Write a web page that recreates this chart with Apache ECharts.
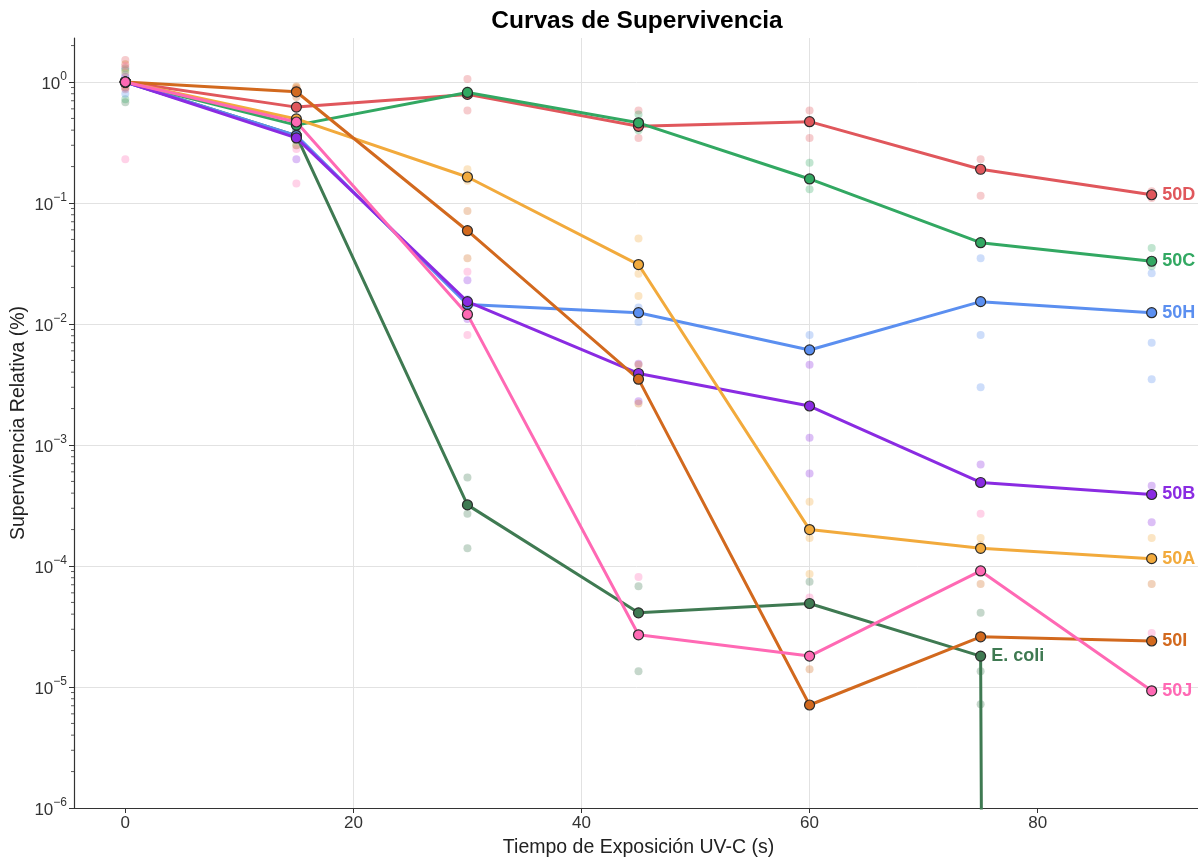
<!DOCTYPE html>
<html><head><meta charset="utf-8">
<script src="https://cdn.jsdelivr.net/npm/echarts@6/dist/echarts.min.js"></script>
<style>html,body{margin:0;padding:0;background:#fff}#c{width:1198px;height:858px}</style>
</head><body><div id="c"></div>
<script>
// ---- data ----
const times = [0, 15, 30, 45, 60, 75, 90];
const xTickLabels = [0, 20, 40, 60, 80];
const yTickExponents = [-6, -5, -4, -3, -2, -1, 0];

const mean_Ecoli = [1, 0.36, 3.2e-4, 4.1e-5, 4.9e-5, 1.8e-5, 0];
const mean_50D = [1, 0.62, 0.79, 0.43, 0.47, 0.19, 0.117];
const mean_50C = [1, 0.44, 0.82, 0.46, 0.158, 0.047, 0.033];
const mean_50H = [1, 0.36, 0.0145, 0.0124, 0.0061, 0.0153, 0.0124];
const mean_50B = [1, 0.345, 0.0153, 0.0039, 0.0021, 4.9e-4, 3.9e-4];
const mean_50A = [1, 0.495, 0.164, 0.031, 2.0e-4, 1.4e-4, 1.15e-4];
const mean_50I = [1, 0.83, 0.059, 0.0035, 7.1e-6, 2.6e-5, 2.4e-5];
const mean_50J = [1, 0.467, 0.012, 2.7e-5, 1.8e-5, 9.1e-5, 9.3e-6];

const repl_Ecoli = [[0,0.68],[0,1.3],[15,0.3],[15,0.4],[30,5.4e-4],[30,2.7e-4],[30,1.4e-4],[45,6.8e-5],[45,1.35e-5],[60,7.4e-5],[75,4.1e-5],[75,1.35e-5],[75,7.2e-6]];
const repl_50D = [[0,1.52],[0,0.87],[15,0.88],[15,0.42],[30,1.06],[30,0.58],[45,0.58],[45,0.345],[60,0.58],[60,0.345],[75,0.23],[75,0.115],[90,0.125],[90,0.11]];
const repl_50C = [[0,0.72],[0,1.25],[15,0.4],[15,0.48],[30,0.85],[30,0.78],[45,0.54],[45,0.40],[60,0.215],[60,0.13],[75,0.048],[75,0.046],[90,0.0425],[90,0.03]];
const repl_50H = [[0,0.8],[0,1.15],[15,0.4],[15,0.33],[30,0.016],[30,0.013],[45,0.0137],[45,0.0104],[60,0.0081],[75,0.035],[75,0.0081],[75,0.003],[90,0.0263],[90,0.007],[90,0.0035]];
const repl_50B = [[0,1.1],[0,0.9],[15,0.23],[15,0.45],[30,0.023],[30,0.011],[45,0.0047],[45,0.0023],[60,0.0046],[60,0.00115],[60,5.8e-4],[75,6.9e-4],[90,4.6e-4],[90,2.3e-4]];
const repl_50A = [[0,1.2],[0,0.9],[15,0.9],[15,0.3],[30,0.19],[30,0.153],[45,0.051],[45,0.026],[45,0.017],[60,3.4e-4],[60,1.7e-4],[60,8.6e-5],[75,1.7e-4],[75,1.5e-4],[90,1.7e-4]];
const repl_50I = [[0,1.4],[0,0.95],[15,0.92],[15,0.75],[30,0.086],[30,0.035],[45,0.0022],[45,0.0046],[60,1.4e-5],[75,7.1e-5],[90,7.1e-5]];
const repl_50J = [[0,0.23],[0,1.35],[15,0.28],[15,0.145],[30,0.027],[30,0.0081],[45,8.1e-5],[60,5.5e-5],[75,2.7e-4],[90,2.8e-5]];

// ---- styling ----
const FONT = '"Liberation Sans", Arial, sans-serif';
const groups = [
  {name: 'E. coli', mean: mean_Ecoli, repl: repl_Ecoli, color: '#3f7a52', labelAt: 5},
  {name: '50D', mean: mean_50D, repl: repl_50D, color: '#e0575c', labelAt: 6},
  {name: '50C', mean: mean_50C, repl: repl_50C, color: '#32a862', labelAt: 6},
  {name: '50H', mean: mean_50H, repl: repl_50H, color: '#5b8ff0', labelAt: 6},
  {name: '50B', mean: mean_50B, repl: repl_50B, color: '#8a2be2', labelAt: 6},
  {name: '50A', mean: mean_50A, repl: repl_50A, color: '#f2aa3c', labelAt: 6},
  {name: '50I', mean: mean_50I, repl: repl_50I, color: '#d2691e', labelAt: 6},
  {name: '50J', mean: mean_50J, repl: repl_50J, color: '#ff69b4', labelAt: 6}
];
const X_MIN = -4.5, X_MAX = 94.5, Y_MIN = 1e-6, Y_MAX = 2.31;
// zero survival is drawn like matplotlib's log clipping: far below the axis
const ZERO_AS = 1e-300;

const series = [];
groups.forEach(g => {
  series.push({
    type: 'scatter', name: g.name + ' rep', z: 1, silent: true,
    symbolSize: 8,
    itemStyle: {color: g.color, opacity: 0.3},
    data: g.repl
  });
});
groups.forEach(g => {
  series.push({
    type: 'line', name: g.name, z: 3, silent: true,
    clip: true,
    symbol: 'circle', symbolSize: 10, showSymbol: true,
    lineStyle: {color: g.color, width: 3},
    itemStyle: {color: g.color, borderColor: '#2a2a2a', borderWidth: 1.2},
    data: times.map((t, i) => {
      const v = g.mean[i] > 0 ? g.mean[i] : ZERO_AS;
      const item = {value: [t, v]};
      if (i === g.labelAt) {
        item.label = {show: true, position: 'right', distance: 5, formatter: g.name,
          color: g.color, fontWeight: 'bold', fontSize: 18, fontFamily: FONT};
      }
      return item;
    })
  });
});

// minor log ticks on the y axis (axis decoration)
const minorTickValues = [];
yTickExponents.forEach(n => { for (let k = 2; k <= 9; k++) { const v = k * Math.pow(10, n); if (v < Y_MAX) minorTickValues.push([X_MIN, v]); } });
series.push({
  type: 'custom', silent: true, z: 5, clip: false,
  data: minorTickValues,
  renderItem: (params, api) => {
    const p = api.coord([api.value(0), api.value(1)]);
    return {type: 'line', shape: {x1: p[0] - 3, y1: p[1], x2: p[0], y2: p[1]}, style: {stroke: '#333', lineWidth: 0.8}};
  }
});

const chart = echarts.init(document.getElementById('c'), null, {renderer: 'canvas'});
chart.setOption({
  animation: false,
  backgroundColor: '#fff',
  grid: {left: 74, right: -5, top: 38, bottom: 50, containLabel: false, outerBoundsMode: 'none'},
  graphic: [{
    type: 'text', x: 637, y: 21,
    style: {text: 'Curvas de Supervivencia', align: 'center', verticalAlign: 'middle',
      fontSize: 24.5, fontWeight: 'bold', fontFamily: FONT, fill: '#000'}
  }],
  xAxis: {
    type: 'value', min: X_MIN, max: X_MAX, splitNumber: 5,
    name: 'Tiempo de Exposición UV-C (s)', nameLocation: 'middle', nameGap: 30,
    nameTextStyle: {fontSize: 19.5, color: '#222', fontFamily: FONT},
    axisLine: {show: true, onZero: false, lineStyle: {color: '#333', width: 1.2}},
    axisTick: {show: true, length: 5, lineStyle: {color: '#333'}, customValues: xTickLabels},
    axisLabel: {fontSize: 17, color: '#333', fontFamily: FONT, margin: 7, customValues: xTickLabels,
      formatter: v => (xTickLabels.indexOf(v) >= 0 ? String(v) : '')},
    splitLine: {show: true, lineStyle: {color: '#e2e2e2', width: 1}, showMinLine: false, showMaxLine: false}
  },
  yAxis: {
    type: 'log', logBase: 10, min: Y_MIN, max: Y_MAX, interval: 1,
    name: 'Supervivencia Relativa (%)', nameLocation: 'middle', nameGap: 45, nameMoveOverlap: false,
    nameTextStyle: {fontSize: 19.5, color: '#222', fontFamily: FONT},
    axisLine: {show: true, onZero: false, lineStyle: {color: '#333', width: 1.2}},
    axisTick: {show: true, length: 5, lineStyle: {color: '#333'}},
    axisLabel: {
      color: '#333', fontFamily: FONT, margin: 7, showMaxLabel: false,
      formatter: v => {
        const e = Math.log10(v);
        const n = Math.round(e);
        if (Math.abs(e - n) > 1e-6 || yTickExponents.indexOf(n) < 0) return '';
        return '{b|10}{s|' + (n < 0 ? '\u2212' + (-n) : String(n)) + '}';
      },
      rich: {
        b: {fontSize: 17, fontFamily: FONT, color: '#333', lineHeight: 22, verticalAlign: 'bottom'},
        s: {fontSize: 12, fontFamily: FONT, color: '#333', lineHeight: 13, verticalAlign: 'top'}
      }
    },
    splitLine: {show: true, lineStyle: {color: '#e2e2e2', width: 1}, showMaxLine: false}
  },
  series: series
});
</script></body></html>
